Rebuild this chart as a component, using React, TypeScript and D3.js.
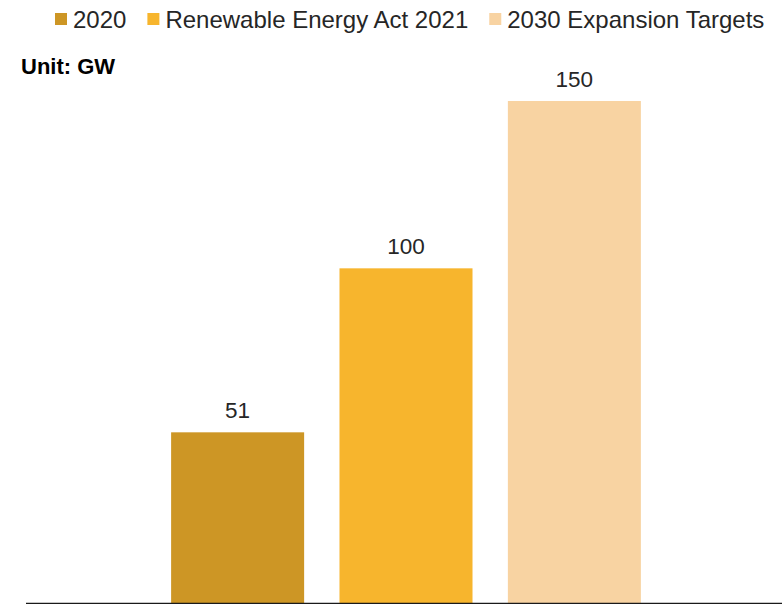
import React, { useEffect, useRef } from "react";
import * as d3 from "d3";

const categories = ["2020", "Renewable Energy Act 2021", "2030 Expansion Targets"];
const values = [51, 100, 150];
const colors = ["#CD9625", "#F7B52D", "#F8D3A2"];
const unitLabel = "Unit: GW";

const App: React.FC = () => {
  const ref = useRef<SVGSVGElement | null>(null);
  const width = 782;
  const height = 604;

  useEffect(() => {
    const svg = d3.select(ref.current);
    svg.selectAll("*").remove();
    svg.attr("width", width).attr("height", height);

    const font = "'Liberation Sans', Arial, Helvetica, sans-serif";

    // Scales
    const x = d3
      .scaleBand<string>()
      .domain(categories)
      .range([28, 784])
      .paddingInner(0.21)
      .paddingOuter(0.85);

    const y = d3.scaleLinear().domain([0, 150]).range([603, 101]);

    // Bars
    svg
      .selectAll(".bar")
      .data(values)
      .enter()
      .append("rect")
      .attr("class", "bar")
      .attr("x", (_, i) => x(categories[i]) ?? 0)
      .attr("y", (d) => y(d))
      .attr("width", x.bandwidth())
      .attr("height", (d) => y(0) - y(d))
      .attr("fill", (_, i) => colors[i]);

    // Value labels
    svg
      .selectAll(".val")
      .data(values)
      .enter()
      .append("text")
      .attr("class", "val")
      .attr("x", (_, i) => (x(categories[i]) ?? 0) + x.bandwidth() / 2)
      .attr("y", (d) => y(d) - 14)
      .attr("text-anchor", "middle")
      .style("font-family", font)
      .style("font-size", "22.5px")
      .attr("fill", "#262626")
      .text((d) => d);

    // Baseline
    svg
      .append("line")
      .attr("x1", 26)
      .attr("x2", 782)
      .attr("y1", y(0) + 0.5)
      .attr("y2", y(0) + 0.5)
      .attr("stroke", "#1a1a1a")
      .attr("stroke-width", 1.3);

    // Unit label
    svg
      .append("text")
      .attr("x", 21)
      .attr("y", 74)
      .style("font-family", font)
      .style("font-size", "22px")
      .style("font-weight", "bold")
      .attr("fill", "#000")
      .text(unitLabel);

    // Legend
    const legend = svg.append("g");
    let lx = 55;
    categories.forEach((c, i) => {
      legend
        .append("rect")
        .attr("x", lx)
        .attr("y", 13)
        .attr("width", 12)
        .attr("height", 12)
        .attr("fill", colors[i]);
      const t = legend
        .append("text")
        .attr("x", lx + 18)
        .attr("y", 28)
        .style("font-family", font)
        .style("font-size", "24px")
        .attr("fill", "#262626")
        .text(c);
      const w = (t.node() as SVGTextElement).getComputedTextLength();
      lx = lx + 18 + w + 21;
    });
  }, []);

  return (
    <svg
      ref={ref}
      style={{ position: "absolute", left: 0, top: 0, display: "block" }}
    ></svg>
  );
};

export default App;
